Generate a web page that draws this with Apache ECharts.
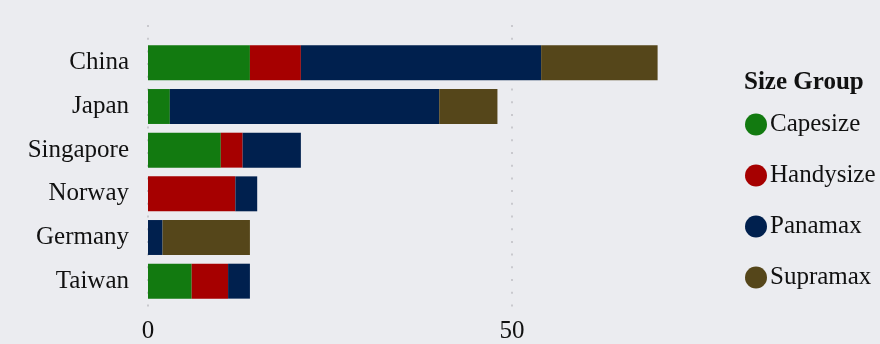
<!DOCTYPE html>
<html>
<head>
<meta charset="utf-8">
<script src="https://cdn.jsdelivr.net/npm/echarts@6/dist/echarts.min.js"></script>
<style>
  html, body { margin: 0; padding: 0; background: #ebecf0; }
  #chart { width: 880px; height: 344px; }
</style>
</head>
<body>
<div id="chart"></div>
<script>
// countries, top to bottom
var countries = ["China", "Japan", "Singapore", "Norway", "Germany", "Taiwan"];
var sizeGroups = ["Capesize", "Handysize", "Panamax", "Supramax"];
// values, one per country
var capesize = [14, 3, 10, 0, 0, 6];
var handysize = [7, 0, 3, 12, 0, 5];
var panamax = [33, 37, 8, 3, 2, 3];
var supramax = [16, 8, 0, 0, 12, 0];
var xTicks = [0, 50];

var colors = ["#127a10", "#a60000", "#00204e", "#55461a"];
var font = "Liberation Serif";

var seriesValues = [capesize, handysize, panamax, supramax];
var series = sizeGroups.map(function (name, i) {
  return {
    name: name,
    type: "bar",
    stack: "total",
    barWidth: "80%",
    xAxisIndex: 0,
    yAxisIndex: 0,
    itemStyle: { color: colors[i] },
    data: seriesValues[i]
  };
});

var option = {
  backgroundColor: "#ebecf0",
  animation: false,
  title: {
    text: "Size Group",
    left: 739,
    top: 65,
    textStyle: { fontFamily: font, fontSize: 25, fontWeight: "bold", color: "#111" }
  },
  legend: {
    data: sizeGroups,
    orient: "vertical",
    left: 740,
    top: 107,
    icon: "circle",
    itemWidth: 22,
    itemHeight: 22,
    itemGap: 26,
    textStyle: { fontFamily: font, fontSize: 25, color: "#111", padding: [0, 0, 0, -2] }
  },
  grid: [
    { left: 148, top: 41, width: 546, height: 262 },
    { left: 148, top: 25, width: 546, height: 285 }
  ],
  xAxis: [
    { gridIndex: 0, type: "value", min: 0, max: 75, interval: 50, show: false },
    {
      gridIndex: 1, type: "value", min: 0, max: 75, interval: 50,
      axisLine: { show: false },
      axisTick: { show: false },
      axisLabel: {
        showMaxLabel: false,
        margin: 11,
        fontFamily: font, fontSize: 25, color: "#111",
        formatter: function (v) { return xTicks.indexOf(v) >= 0 ? String(v) : ""; }
      },
      splitLine: {
        show: true,
        showMaxLine: false,
        lineStyle: { color: "#c9c9ce", width: 2, type: [2, 10.7] }
      }
    }
  ],
  yAxis: [
    {
      gridIndex: 0,
      type: "category",
      data: countries,
      inverse: true,
      axisLine: { show: false },
      axisTick: { show: false },
      splitLine: { show: false },
      axisLabel: { margin: 19, fontFamily: font, fontSize: 25, color: "#111" }
    },
    { gridIndex: 1, type: "value", show: false }
  ],
  series: series
};

var myChart = echarts.init(document.getElementById("chart"), null, { renderer: "canvas" });
myChart.setOption(option);
</script>
</body>
</html>
